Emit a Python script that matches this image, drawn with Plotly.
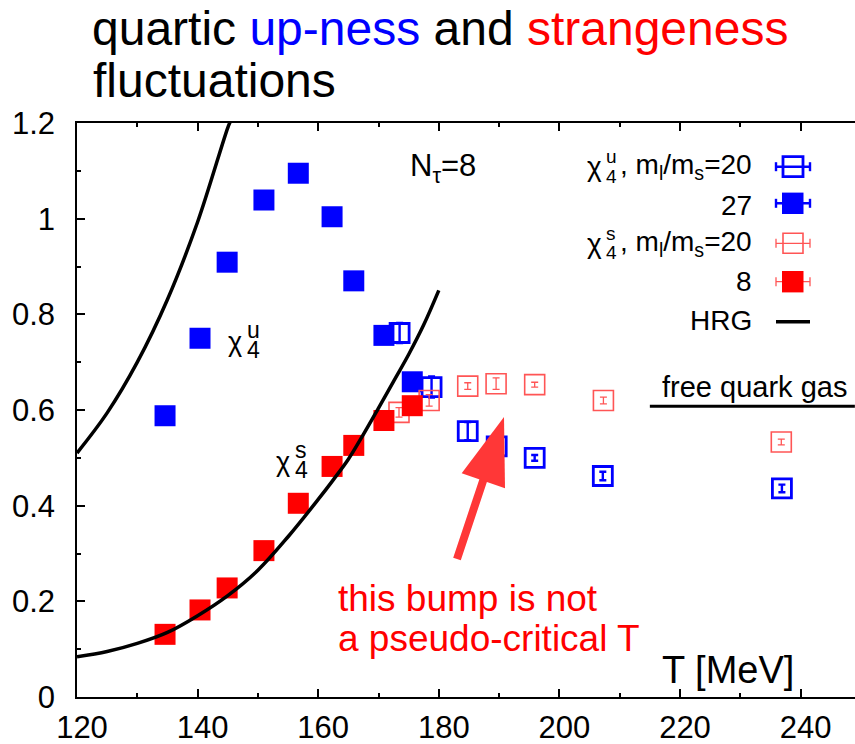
import plotly.graph_objects as go

# ---------------- data ----------------
# N_tau = 8, m_l/m_s = 27 (filled symbols)
T_27 = [134.6, 140.4, 144.9, 151.0, 156.7, 162.3, 165.9, 170.9, 175.6]
chi4_u_27 = [0.588, 0.750, 0.909, 1.039, 1.095, 1.004, 0.870, 0.756, 0.659]
chi4_s_27 = [0.131, 0.182, 0.228, 0.306, 0.405, 0.482, 0.526, 0.578, 0.609]

# N_tau = 8, m_l/m_s = 20 (open symbols)
T_20_u = [173.5, 178.8, 184.8, 189.6, 195.9, 207.2, 236.9]
chi4_u_20 = [0.761, 0.648, 0.556, 0.524, 0.500, 0.462, 0.436]
err_u_20 = [0.021, 0.022, 0.019, 0.020, 0.006, 0.009, 0.008]

T_20_s = [173.4, 178.4, 184.8, 189.5, 195.9, 207.3, 236.8]
chi4_s_20 = [0.595, 0.620, 0.650, 0.655, 0.653, 0.620, 0.533]
err_s_20 = [0.010, 0.012, 0.007, 0.012, 0.005, 0.007, 0.006]

# hadron resonance gas curves
T_hrg_u = [120, 125, 130, 135, 140, 145, 145.5]
chi4_u_hrg = [0.510, 0.594, 0.700, 0.831, 0.993, 1.190, 1.205]
T_hrg_s = [120, 125, 130, 135, 140, 145, 150, 155, 160, 162.5, 165, 167.5,
           170, 172.5, 175, 177.5, 180]
chi4_s_hrg = [0.084, 0.095, 0.112, 0.135, 0.170, 0.212, 0.265, 0.335, 0.413,
              0.454, 0.497, 0.549, 0.604, 0.660, 0.716, 0.778, 0.850]

# free quark gas limit
T_fqg = [215, 249]
chi4_fqg = [0.6079, 0.6079]

x_ticks = [120, 140, 160, 180, 200, 220, 240]
y_ticks = [0, 0.2, 0.4, 0.6, 0.8, 1.0, 1.2]
y_ticktext = ["0", "0.2", "0.4", "0.6", "0.8", "1", "1.2"]

# ---------------- styling ----------------
BLUE = "#0000ff"
RED = "#ff0000"
RED_LIGHT = "rgb(255,85,85)"
FONT = "Liberation Sans, Arial, sans-serif"

W, H = 855, 744
L, R, T, B = 77, 0, 123, 47
PW, PH = W - L - R, H - T - B


def px(x):
    return (x - L) / PW


def py(y):
    return (H - B - y) / PH


fig = go.Figure()

fig.add_trace(go.Scatter(
    x=T_20_u, y=chi4_u_20, mode="markers",
    error_y=dict(type="data", array=err_u_20, color=BLUE, thickness=2.4, width=3.5),
    marker=dict(symbol="square-open", size=19, color=BLUE, line=dict(width=2.8, color=BLUE)),
    showlegend=False))
fig.add_trace(go.Scatter(
    x=T_27, y=chi4_u_27, mode="markers",
    marker=dict(symbol="square", size=21, color=BLUE, line=dict(width=0)),
    showlegend=False))
fig.add_trace(go.Scatter(
    x=T_20_s, y=chi4_s_20, mode="markers",
    error_y=dict(type="data", array=err_s_20, color=RED_LIGHT, thickness=1.3, width=3.5),
    marker=dict(symbol="square-open", size=20, color=RED_LIGHT, line=dict(width=1.6, color=RED_LIGHT)),
    showlegend=False))
fig.add_trace(go.Scatter(
    x=T_27, y=chi4_s_27, mode="markers",
    marker=dict(symbol="square", size=21, color=RED, line=dict(width=0)),
    showlegend=False))

fig.add_trace(go.Scatter(x=T_hrg_u, y=chi4_u_hrg, mode="lines",
                         line=dict(color="black", width=3.5, shape="spline"),
                         showlegend=False))
fig.add_trace(go.Scatter(x=T_hrg_s, y=chi4_s_hrg, mode="lines",
                         line=dict(color="black", width=3.5, shape="spline"),
                         showlegend=False))
fig.add_trace(go.Scatter(x=T_fqg, y=chi4_fqg, mode="lines",
                         line=dict(color="black", width=3), showlegend=False,
                         cliponaxis=False))

# ---------------- text ----------------
def text(x, y, s, size, color="black", anchor="left"):
    fig.add_annotation(x=px(x), y=py(y), xref="paper", yref="paper", text=s,
                       showarrow=False, xanchor=anchor, yanchor="middle",
                       font=dict(family=FONT, size=size, color=color),
                       borderpad=0)


def stacked(x, baseline, base, sub, sup, size, subsize, gap=0.70):
    # symbol with subscript and superscript stacked on top of each other
    text(x, baseline - 0.3465 * size, base, size)
    xs = x + gap * size
    text(xs, baseline + 0.32 * subsize - 0.3465 * subsize, sub, subsize)
    text(xs, baseline - 0.55 * size - 0.3465 * subsize + 0.1 * subsize, sup, subsize)


# title, two lines
TITLE = 48
text(91, 45 - 0.3465 * TITLE,
     "quartic <span style='color:#0000ff'>up-ness</span> and "
     "<span style='color:#ff0000'>strangeness</span>", TITLE)
text(92, 97 - 0.3465 * TITLE, "fluctuations", TITLE)

# in-plot labels
text(409, 179 - 0.3465 * 31, "N<sub>τ</sub>=8", 31)
stacked(227, 351, "χ", "4", "u", 27, 23)
stacked(275, 471, "χ", "4", "s", 27, 23)
text(661, 396.7 - 0.3465 * 29, "free quark gas", 29)
text(661, 683 - 0.3465 * 38, "T [MeV]", 38)
text(337, 611.7 - 0.3465 * 37, "this bump is not", 37, RED)
text(337, 651.7 - 0.3465 * 37, "a pseudo-critical T", 37, RED)

# arrow pointing at the bump
ARROW = "rgb(255,55,55)"
fig.add_shape(type="line", xref="paper", yref="paper",
              x0=px(457), y0=py(559), x1=px(484), y1=py(478),
              line=dict(color=ARROW, width=8))
fig.add_shape(type="path", xref="paper", yref="paper",
              path=f"M {px(504)} {py(417)} L {px(461.7)} {py(473.3)} "
                   f"L {px(505)} {py(488.3)} Z",
              fillcolor=ARROW, line=dict(width=0))

# ---------------- key ----------------
rows = [
    dict(y=166.7, color=BLUE, filled=False, lw=2.4),
    dict(y=203.3, color=BLUE, filled=True, lw=2.4),
    dict(y=243.3, color=RED_LIGHT, filled=False, lw=1.3),
    dict(y=281.7, color=RED, filled=True, lw=1.3),
]
for r in rows:
    yc = r["y"]
    bar_col = r["color"] if r["color"] != RED else RED_LIGHT
    fig.add_shape(type="line", xref="paper", yref="paper",
                  x0=px(776), x1=px(810), y0=py(yc), y1=py(yc),
                  line=dict(color=bar_col, width=r["lw"]))
    for xc in (776, 810):
        fig.add_shape(type="line", xref="paper", yref="paper",
                      x0=px(xc), x1=px(xc), y0=py(yc - 4.5), y1=py(yc + 4.5),
                      line=dict(color=bar_col, width=r["lw"]))
    if r["filled"]:
        fig.add_shape(type="rect", xref="paper", yref="paper",
                      x0=px(782), x1=px(803.5), y0=py(yc - 10.7), y1=py(yc + 10.7),
                      fillcolor=r["color"], line=dict(width=0))
    else:
        lw = 2.8 if r["color"] == BLUE else 1.6
        fig.add_shape(type="rect", xref="paper", yref="paper",
                      x0=px(783), x1=px(803), y0=py(yc - 10), y1=py(yc + 10),
                      line=dict(color=r["color"], width=lw))
fig.add_shape(type="line", xref="paper", yref="paper",
              x0=px(776), x1=px(810), y0=py(321.7), y1=py(321.7),
              line=dict(color="black", width=3.5))

KEY_SIZE = 28
text(753, 176.7 - 0.3465 * KEY_SIZE, ", m<sub>l</sub>/m<sub>s</sub>=20", KEY_SIZE, anchor="right")
stacked(586, 176.7, "χ", "4", "u", KEY_SIZE, 19, gap=0.68)
text(753, 215 - 0.3465 * KEY_SIZE, "27", KEY_SIZE, anchor="right")
text(753, 253.3 - 0.3465 * KEY_SIZE, ", m<sub>l</sub>/m<sub>s</sub>=20", KEY_SIZE, anchor="right")
stacked(586, 253.3, "χ", "4", "s", KEY_SIZE, 19, gap=0.68)
text(753, 291.7 - 0.3465 * KEY_SIZE, "8", KEY_SIZE, anchor="right")
text(753, 330.7 - 0.3465 * KEY_SIZE, "HRG", KEY_SIZE, anchor="right")

# ---------------- axes ----------------
axis_common = dict(showgrid=False, zeroline=False, showline=True, linecolor="black",
                   linewidth=1.6, ticks="inside", tickcolor="black", tickwidth=1.5,
                   ticklen=8, automargin=False,
                   tickfont=dict(family=FONT, size=31, color="black"))
fig.update_xaxes(range=[120, 120 + PW / 6.03], tickvals=x_ticks, mirror="ticks",
                 minor=dict(ticks="inside", dtick=10, ticklen=4, tickcolor="black",
                            tickwidth=1.5),
                 ticklabelstandoff=2, ticklabelshift=5, **axis_common)
fig.update_yaxes(range=[0, 1.2], tickvals=y_ticks, ticktext=y_ticktext, mirror=False,
                 minor=dict(ticks="inside", dtick=0.1, ticklen=4, tickcolor="black",
                            tickwidth=1.5),
                 ticklabelstandoff=14, **axis_common)

fig.update_layout(width=W, height=H, margin=dict(l=L, r=R, t=T, b=B),
                  plot_bgcolor="white", paper_bgcolor="white",
                  font=dict(family=FONT, color="black"))

fig.write_html("out.html")
